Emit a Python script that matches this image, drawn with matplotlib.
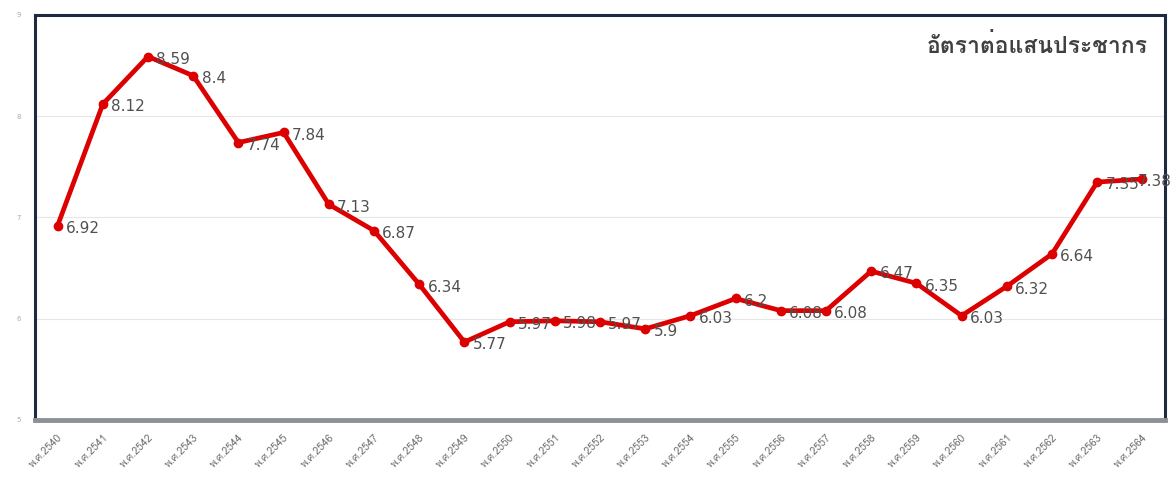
import matplotlib.pyplot as plt
from matplotlib import font_manager

years = ['2540', '2541', '2542', '2543', '2544', '2545', '2546', '2547', '2548',
         '2549', '2550', '2551', '2552', '2553', '2554', '2555', '2556', '2557',
         '2558', '2559', '2560', '2561', '2562', '2563', '2564']
tick_labels = ['พ.ศ.' + y for y in years]
rates = [6.92, 8.12, 8.59, 8.4, 7.74, 7.84, 7.13, 6.87, 6.34, 5.77, 5.97, 5.98,
         5.97, 5.9, 6.03, 6.2, 6.08, 6.08, 6.47, 6.35, 6.03, 6.32, 6.64, 7.35, 7.38]
title = 'อัตราต่อแสนประชากร'

# pick a font that has Thai glyphs, if one is installed
thai_font = None
for f in font_manager.fontManager.ttflist:
    if 'Thai' in f.name or 'Loma' in f.name or 'Garuda' in f.name:
        thai_font = f.name
        break
families = ([thai_font] if thai_font else []) + ['DejaVu Sans']

fig = plt.figure(figsize=(11.72, 4.93), dpi=100)
ax = fig.add_axes([35 / 1172, 73 / 493, 1130 / 1172, 405 / 493])

x = list(range(len(rates)))
ax.plot(x, rates, color='#dc0000', lw=3.4, marker='o', ms=6, zorder=3)
for xi, v in zip(x, rates):
    # last label squeezed against the right edge, as in the original
    dx = 6 if xi < len(rates) - 1 else -3
    ax.annotate(f'{v:g}', (xi, v), xytext=(dx, -2), textcoords='offset points',
                ha='left', va='center', fontsize=11, color='#505050', zorder=4,
                annotation_clip=False)

ax.set_xlim(-0.5, len(rates) - 0.5)
ax.set_ylim(5, 9)
ax.set_yticks([5, 6, 7, 8, 9])
ax.grid(axis='y', color='#e6e6e6', lw=0.8)
ax.set_axisbelow(True)
ax.tick_params(axis='y', length=0, labelsize=5, colors='#aaaaaa', pad=10)
ax.set_xticks(x)
ax.set_xticklabels(tick_labels, rotation=45, ha='right', rotation_mode='anchor',
                   fontsize=7.5, color='#707070', family=families)
ax.tick_params(axis='x', length=0, pad=9)

for side in ['left', 'top', 'right']:
    ax.spines[side].set_color('#1f2940')
    ax.spines[side].set_linewidth(2.2)
ax.spines['bottom'].set_color('#8c9198')
ax.spines['bottom'].set_linewidth(3.5)

ax.text(0.985, 0.925, title, transform=ax.transAxes, ha='right', va='center',
        fontsize=16.5, fontweight='bold', color='#404040', family=families)

fig.savefig('out.png', dpi=100)
